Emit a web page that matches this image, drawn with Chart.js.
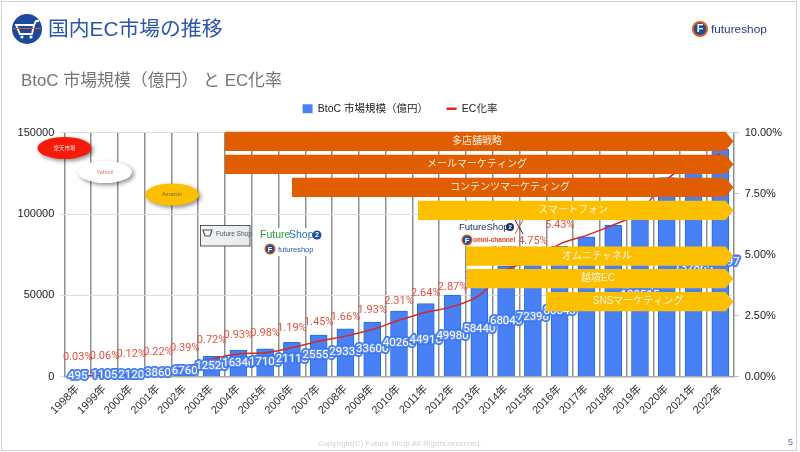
<!DOCTYPE html>
<html>
<head>
<meta charset="utf-8">
<script src="https://cdn.jsdelivr.net/npm/chart.js@4/dist/chart.umd.min.js"></script>
<style>
  html, body { margin: 0; padding: 0; background: #fff; }
  #slide { position: relative; width: 800px; height: 452px; overflow: hidden; font-family: "Liberation Sans", "Noto Sans CJK JP", sans-serif; }
  #slide canvas { position: absolute; left: 0; top: 0; }
  #frame { position: absolute; left: 1px; top: 1px; width: 794px; height: 448px; border: 1.5px solid #cfcfcf; border-right-width: 1px; }
  .txt { position: absolute; white-space: nowrap; z-index: 2; }
  #head { left: 48px; top: 14px; font-size: 20.8px; line-height: 30px; color: #2a56ad; }
  #sub { left: 21px; top: 69px; font-size: 16.9px; line-height: 24px; color: #757575; }
  #copy { left: 318px; top: 439px; font-size: 7.5px; letter-spacing: 0.25px; color: #cfcfcf; }
  #page { left: 788px; top: 437px; font-size: 9px; color: #5b6fb5; }
  #cart { position: absolute; left: 12px; top: 14px; z-index: 2; }
</style>
</head>
<body>
<div id="slide">
  <canvas id="chart" width="800" height="452"></canvas>
  <div id="frame"></div>
  <svg id="cart" width="30" height="30" viewBox="0 0 30 30">
    <circle cx="15" cy="15" r="15" fill="#1a4a9c"/>
    <path d="M4 11H22L20 20H8Z M22 11L24 7H27" fill="none" stroke="#fff" stroke-width="1.8"/>
    <path d="M1 14.5H29" stroke="#e0581a" stroke-width="1"/>
    <circle cx="10" cy="23" r="1.6" fill="#fff"/><circle cx="19" cy="23" r="1.6" fill="#fff"/>
  </svg>
  <div class="txt" id="head">国内EC市場の推移</div>
  <div class="txt" id="sub">BtoC 市場規模（億円） と EC化率</div>
  <div class="txt" id="copy">Copyright(C) Future Shop All Rights reserved.</div>
  <div class="txt" id="page">5</div>
</div>
<script>
// chart data
const years = ['1998年','1999年','2000年','2001年','2002年','2003年','2004年','2005年','2006年','2007年','2008年','2009年','2010年','2011年','2012年','2013年','2014年','2015年','2016年','2017年','2018年','2019年','2020年','2021年','2022年'];
const marketSize = [495,1105,2120,3860,6760,12520,16340,17100,21110,25550,29330,33600,40260,44910,49980,58440,68043,72398,80043,86008,92992,100515,122333,132865,139997];
const ecRate = [0.03,0.06,0.12,0.22,0.39,0.72,0.93,0.98,1.19,1.45,1.66,1.93,2.31,2.64,2.87,3.33,4.37,4.75,5.43,5.79,6.22,6.76,8.08,8.78,9.13];

// strategy arrows laid over the chart
const bandLabels = ['多店舗戦略','メールマーケティング','コンテンツマーケティング','スマートフォン','オムニチャネル','越境EC','SNSマーケティング'];
const bandColors = ['#e05e00','#e05e00','#e05e00','#fcc000','#fcc000','#fcc000','#fcc000'];
const bandLeft = [225,225,292,418,466,467,546];
const bandTop = [131.7,154.7,177.7,200.7,246.5,269,292];
const bandTextX = [477,477,510,573,597,598,638];

const FONT = '"Liberation Sans", "Noto Sans CJK JP", sans-serif';

// extra room under the legend
const legendGap = {
  id: 'legendGap',
  beforeInit(chart) {
    const fit = chart.legend.fit;
    chart.legend.fit = function () {
      fit.call(this);
      this.height += 8.7;
    };
  }
};

// value labels: red rate above each point, chip-like size label in the middle of each bar
const valueLabels = {
  id: 'valueLabels',
  afterDatasetsDraw(chart) {
    const ctx = chart.ctx;
    const bars = chart.getDatasetMeta(0).data;
    const pts = chart.getDatasetMeta(1).data;
    const area = chart.chartArea;
    ctx.save();
    ctx.textAlign = 'center';
    ctx.textBaseline = 'middle';
    ctx.lineJoin = 'round';
    // rate labels stay inside the plot and clear of the arrow tips
    ctx.save();
    ctx.beginPath();
    ctx.rect(0, area.top, 725, area.bottom - area.top);
    ctx.clip();
    pts.forEach((p, i) => {
      ctx.font = '11px Roboto, ' + FONT;
      ctx.fillStyle = '#e8503f';
      ctx.fillText(ecRate[i].toFixed(2) + '%', p.x, p.y - 19);
    });
    ctx.restore();
    bars.forEach((b, i) => {
      const y = (b.y + b.base) / 2;
      ctx.font = '11.5px Roboto, ' + FONT;
      ctx.strokeStyle = '#2f72ea';
      ctx.lineWidth = 4;
      ctx.strokeText(marketSize[i], b.x, y);
      ctx.strokeStyle = '#5f8ff6';
      ctx.lineWidth = 2.5;
      ctx.strokeText(marketSize[i], b.x, y);
      ctx.fillStyle = '#fff';
      ctx.fillText(marketSize[i], b.x, y);
    });
    ctx.restore();
  }
};

function ellipse(ctx, x, y, fill, label, color) {
  ctx.save();
  ctx.shadowColor = 'rgba(0,0,0,0.45)';
  ctx.shadowBlur = 4;
  ctx.shadowOffsetX = 2;
  ctx.shadowOffsetY = 2;
  ctx.fillStyle = fill;
  ctx.beginPath();
  ctx.ellipse(x, y, 27, 11, 0, 0, Math.PI * 2);
  ctx.fill();
  ctx.restore();
  ctx.fillStyle = color;
  ctx.font = '5.5px ' + FONT;
  ctx.textAlign = 'center';
  ctx.textBaseline = 'middle';
  ctx.fillText(label, x, y);
}

function badge(ctx, x, y, r) {
  ctx.fillStyle = '#e05a10';
  ctx.beginPath(); ctx.arc(x, y, r, 0, Math.PI * 2); ctx.fill();
  ctx.fillStyle = '#1c4fa0';
  ctx.beginPath(); ctx.arc(x, y, r * 0.76, 0, Math.PI * 2); ctx.fill();
  ctx.fillStyle = '#fff';
  ctx.font = 'bold ' + (r * 1.35) + 'px ' + FONT;
  ctx.textAlign = 'center';
  ctx.textBaseline = 'middle';
  ctx.fillText('F', x, y + 0.5);
}

function text(ctx, s, x, y, font, color) {
  ctx.font = font;
  ctx.fillStyle = color;
  ctx.textAlign = 'left';
  ctx.textBaseline = 'middle';
  ctx.fillText(s, x, y);
}

// overlay shapes and logos from the slide
const overlays = {
  id: 'overlays',
  afterDraw(chart) {
    const ctx = chart.ctx;
    ctx.save();
    bandLabels.forEach((label, i) => {
      const l = bandLeft[i], t = bandTop[i], h = 19.3, tip = 733.5;
      ctx.fillStyle = bandColors[i];
      ctx.beginPath();
      ctx.moveTo(l, t);
      ctx.lineTo(tip - 8, t);
      ctx.lineTo(tip, t + h / 2);
      ctx.lineTo(tip - 8, t + h);
      ctx.lineTo(l, t + h);
      ctx.closePath();
      ctx.fill();
      ctx.fillStyle = '#fdf0e0';
      ctx.font = '10px ' + FONT;
      ctx.textAlign = 'center';
      ctx.textBaseline = 'middle';
      ctx.fillText(label, bandTextX[i], t + h / 2);
    });

    ellipse(ctx, 64.5, 148, '#f81a08', '楽天市場', '#ffd8d0');
    ellipse(ctx, 105, 172, '#ffffff', 'Yahoo!', '#f26a6a');
    ellipse(ctx, 172, 194.5, '#fcc000', 'Amazon', '#7a6a20');

    // first FutureShop logo box
    const g = ctx.createLinearGradient(200, 225, 250, 246);
    g.addColorStop(0, '#f4f6f8');
    g.addColorStop(1, '#e4e8ec');
    ctx.fillStyle = g;
    ctx.fillRect(200.5, 225.5, 49.5, 20.5);
    ctx.strokeStyle = '#333';
    ctx.lineWidth = 0.8;
    ctx.strokeRect(200.5, 225.5, 49.5, 20.5);
    ctx.strokeStyle = '#555';
    ctx.lineWidth = 1.2;
    ctx.beginPath();
    ctx.moveTo(203, 230); ctx.lineTo(212, 230); ctx.lineTo(210, 236); ctx.lineTo(205, 236); ctx.closePath();
    ctx.stroke();
    text(ctx, 'Future Shop', 216, 234, '6.5px ' + FONT, '#555');

    // FutureShop2 logo, white backing hides the grid lines behind it
    ctx.fillStyle = '#fff';
    ctx.fillRect(258, 228, 64, 28);
    text(ctx, 'Future', 260, 235, '10.5px ' + FONT, '#2a9a3a');
    text(ctx, 'Shop', 289, 235, '10.5px ' + FONT, '#2a70c0');
    ctx.fillStyle = '#1f4ea5';
    ctx.beginPath(); ctx.arc(317, 235, 4.5, 0, Math.PI * 2); ctx.fill();
    text(ctx, '2', 315, 235.5, 'bold 7px ' + FONT, '#fff');
    badge(ctx, 270, 249, 5.5);
    text(ctx, 'futureshop', 278, 249.5, '7.5px ' + FONT, '#2a5aa8');

    // FutureShop2 x omni-channel logo
    ctx.fillStyle = '#fff';
    ctx.fillRect(457, 221, 62, 25);
    text(ctx, 'FutureShop', 459, 227, '9.5px ' + FONT, '#1c2a6e');
    ctx.fillStyle = '#1c2a6e';
    ctx.beginPath(); ctx.arc(510, 227, 4, 0, Math.PI * 2); ctx.fill();
    text(ctx, '2', 508.5, 227.5, 'bold 6px ' + FONT, '#fff');
    ctx.lineWidth = 1;
    ctx.strokeStyle = '#1c2a6e';
    ctx.beginPath(); ctx.moveTo(515, 220); ctx.lineTo(523, 234); ctx.stroke();
    ctx.strokeStyle = '#e05a10';
    ctx.beginPath(); ctx.moveTo(523, 220); ctx.lineTo(515, 234); ctx.stroke();
    badge(ctx, 467, 240, 5.5);
    text(ctx, 'omni-channel', 473, 240.5, 'bold 6.5px ' + FONT, '#d9431e');

    // top right logo
    badge(ctx, 700, 29, 8);
    text(ctx, 'futureshop', 711, 29.5, '11.8px ' + FONT, '#1f3f8f');
    ctx.restore();
  }
};

new Chart(document.getElementById('chart'), {
  data: {
    labels: years,
    datasets: [
      {
        type: 'bar',
        label: 'BtoC 市場規模（億円）',
        data: marketSize,
        yAxisID: 'y',
        backgroundColor: '#4a80f5',
        borderColor: '#1e6fe0',
        borderWidth: 1,
        borderRadius: 1,
        barThickness: 17,
        order: 2
      },
      {
        type: 'line',
        label: 'EC化率',
        data: ecRate,
        yAxisID: 'y1',
        borderColor: '#d62a1a',
        backgroundColor: '#d62a1a',
        borderWidth: 1.5,
        pointRadius: 0,
        tension: 0.4,
        cubicInterpolationMode: 'monotone',
        order: 1
      }
    ]
  },
  options: {
    responsive: false,
    animation: false,
    devicePixelRatio: 1,
    layout: { padding: { top: 85, left: 0, right: 0, bottom: 0 } },
    plugins: {
      tooltip: { enabled: false },
      legend: {
        position: 'top',
        labels: {
          color: '#222',
          font: { size: 10.5, family: FONT },
          usePointStyle: true,
          boxHeight: 9,
          boxWidth: 10,
          pointStyleWidth: 10,
          padding: 18.5,
          sort: (a, b) => a.datasetIndex - b.datasetIndex,
          generateLabels(chart) {
            return Chart.defaults.plugins.legend.labels.generateLabels(chart).map(item => {
              const isBar = item.datasetIndex === 0;
              item.pointStyle = isBar ? 'rect' : 'line';
              item.lineWidth = isBar ? 0 : 2.5;
              item.fillStyle = isBar ? '#4a80f5' : '#d62a1a';
              item.strokeStyle = isBar ? '#4a80f5' : '#d62a1a';
              return item;
            });
          }
        }
      }
    },
    scales: {
      x: {
        afterFit(s) { s.height = 75.4; },
        grid: { color: '#8f8f8f', lineWidth: 1.5, drawTicks: false },
        border: { color: '#aaa', width: 1.5 },
        ticks: { color: '#333', font: { size: 11, family: FONT }, minRotation: 45, maxRotation: 45, padding: 6, autoSkip: false }
      },
      y: {
        position: 'left',
        min: 0,
        max: 150000,
        afterFit(s) { s.width = 64.3; },
        grid: { color: '#dcdcdc', lineWidth: 1, tickLength: 4 },
        border: { display: false },
        ticks: { stepSize: 50000, color: '#222', font: { size: 11, family: FONT }, padding: 6, callback: v => String(v) }
      },
      y1: {
        position: 'right',
        min: 0,
        max: 10,
        afterFit(s) { s.width = 66.3; },
        grid: { drawOnChartArea: false, color: '#bbb', tickLength: 5 },
        border: { display: false },
        ticks: { stepSize: 2.5, color: '#222', font: { size: 11, family: FONT }, padding: 6, callback: v => v.toFixed(2) + '%' }
      }
    }
  },
  plugins: [legendGap, valueLabels, overlays]
});
</script>
</body>
</html>
